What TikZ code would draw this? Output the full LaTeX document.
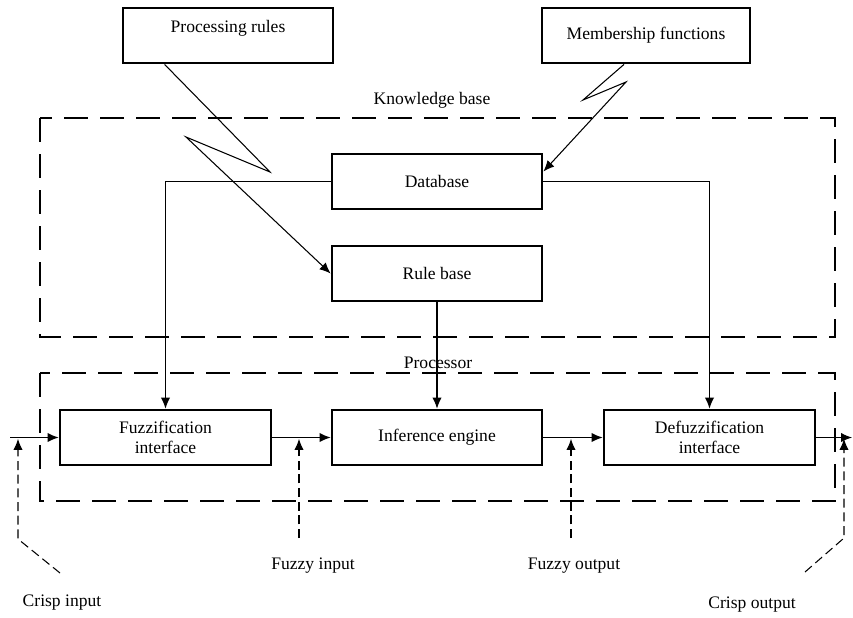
\documentclass[tikz,border=0pt]{standalone}
\usepackage{fontspec}
\setmainfont{Liberation Serif}
\usetikzlibrary{arrows.meta,positioning}

\begin{document}
\begin{tikzpicture}[x=0.03cm,y=-0.03cm,
	font=\fontsize{15}{17}\selectfont,
	% blocks and frames
	box/.style={draw,line width=2.4pt,minimum width=6.3cm,minimum height=1.65cm,align=center,inner sep=0pt},
	frame/.style={line width=2.4pt,dash pattern=on 7.2mm off 3.6mm},
	% connectors
	wire/.style={line width=0.9pt,-{Latex[length=3.3mm,width=2.8mm]}},
	hint/.style={line width=0.9pt,dash pattern=on 2.7mm off 1.4mm,-{Latex[length=3.3mm,width=2.8mm]},shorten >=1.2pt}
	]
	\useasboundingbox (0,0) rectangle (853,617);
	\draw[frame] (40,118) rectangle (835,337);
	\draw[frame] (40,373) rectangle (835,501);
	\node (kb) at (432,100) {Knowledge base};
	\node (proc) at (438,363) {Processor};
	% outside sources
	\node[box,text depth=0.55cm] (rules) at (228,35.5) {Processing rules};
	\node[box,minimum width=6.24cm] (funcs) at (646,35.5) {Membership functions};
	% knowledge base
	\node[box] (db) at (437,181.5) {Database};
	\node[box] (rb) at (437,273.5) {Rule base};
	% processor
	\node[box,minimum width=6.33cm] (fuzz) at (165.5,437.5) {Fuzzification\\interface};
	\node[box] (inf) at (437,437.5) {Inference engine};
	\node[box,minimum width=6.33cm] (defuzz) at (709.5,437.5) {Defuzzification\\interface};
	\node (cin) at (62,603) {Crisp input};
	\node (fin) at (313,566) {Fuzzy input};
	\node (fout) at (574,566) {Fuzzy output};
	\node (cout) at (752,605) {Crisp output};
	\coordinate (in) at (10,437.5);
	\coordinate (out) at (852,437.5);
	\coordinate (ci) at (60,573);
	\coordinate (fi) at (299,538);
	\coordinate (fo) at (571,538);
	\coordinate (co) at (805,572);
	% flow
	\draw[wire] ([xshift=1.29cm]rules.south west) -- (270,172) -- (186,137) -- (rb.west);
	\draw[wire] ([xshift=-0.66cm]funcs.south) -- (583,100) -- (626,82) -- ([yshift=0.3cm]db.east);
	\draw[wire] (db.west) -| (fuzz.north);
	\draw[wire] (db.east) -| (defuzz.north);
	\draw[wire] (rb.south) -- (inf.north);
	\draw[wire] (in) -- (fuzz.west);
	\draw[wire] (fuzz.east) -- (inf.west);
	\draw[wire] (inf.east) -- (defuzz.west);
	\draw[wire] (defuzz.east) -- (out);
	\draw[hint] (ci) -- (18,539) -- (18,437.5);
	\draw[hint] (fi) -- (fi |- inf.west);
	\draw[hint] (fo) -- (fo |- inf.east);
	\draw[hint] (co) -- (844,538) -- (844,437.5);
\end{tikzpicture}
\end{document}
